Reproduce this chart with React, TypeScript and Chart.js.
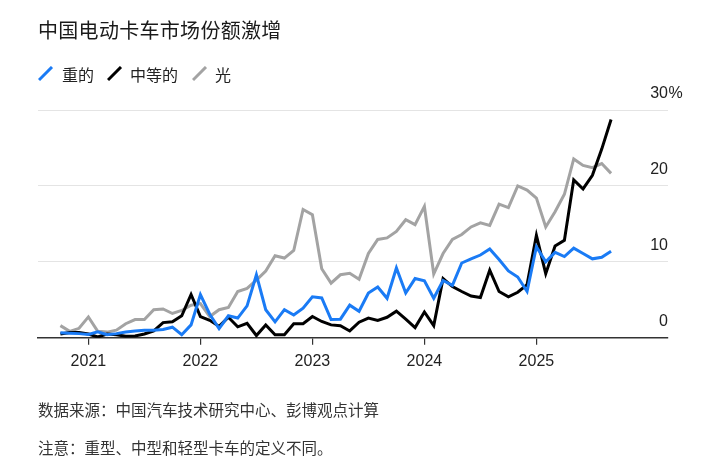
import React, { useEffect, useRef } from "react";
import { Chart, registerables } from "chart.js";

Chart.register(...registerables);

// Monthly data, Oct 2020 .. Sep 2025 (index 0 = Oct 2020)
const heavy = [
  0.65, 0.6, 0.55, 0.45, 0.8, 0.4, 0.55, 0.75, 0.9, 1.0, 1.0, 1.1,
  1.4, 0.4, 1.7, 5.7, 3.1, 1.2, 2.9, 2.6, 4.2, 8.3, 3.7, 2.1,
  3.7, 3.0, 3.9, 5.4, 5.25, 2.4, 2.45, 4.3, 3.5, 5.9, 6.7, 5.2,
  9.2, 5.9, 7.8, 7.5, 5.2, 7.55, 6.9, 9.85, 10.4, 10.9, 11.7, 10.3,
  8.8, 8.0, 6.1, 12.0, 10.0, 11.25, 10.7, 11.8, 11.1, 10.4, 10.6, 11.4,
];
const medium = [
  0.5, 0.7, 0.7, 0.5, 0.1, 0.5, 0.4, 0.2, 0.25, 0.5, 0.9, 2.0,
  2.1, 2.9, 5.7, 2.8, 2.3, 1.5, 2.7, 1.45, 1.9, 0.3, 1.7, 0.4,
  0.4, 1.85, 1.85, 2.8, 2.15, 1.7, 1.6, 0.9, 2.05, 2.6, 2.3, 2.7,
  3.5, 2.45, 1.35, 3.4, 1.6, 7.8, 6.75, 6.1, 5.5, 5.3, 8.9, 6.1,
  5.4, 6.0, 7.0, 13.5, 8.45, 12.1, 12.85, 20.8, 19.6, 21.4, 24.85, 28.75,
];
const light = [
  1.6, 0.85, 1.25, 2.75, 0.85, 0.75, 1.0, 1.85, 2.4, 2.4, 3.7, 3.8,
  3.2, 3.6, 4.3, 4.5, 2.8, 3.7, 4.0, 6.1, 6.5, 7.6, 8.8, 10.8,
  10.5, 11.5, 16.9, 16.2, 9.1, 7.2, 8.3, 8.5, 7.7, 11.1, 12.95, 13.15,
  14.0, 15.55, 14.9, 17.3, 8.4, 11.1, 12.95, 13.6, 14.6, 15.15, 14.8, 17.6,
  17.15, 20.0, 19.45, 18.4, 14.6, 16.6, 18.9, 23.55, 22.7, 22.4, 22.95, 21.65,
];

const seriesNames = ["重的", "中等的", "光"];
const seriesColors = ["#1a7bf5", "#000000", "#a3a3a3"];

// Year ticks: index of January of each year
const yearTickIndex = [3, 15, 27, 39, 51];
const yearLabels = ["2021", "2022", "2023", "2024", "2025"];
const yTicks = [0, 10, 20, 30];

const title = "中国电动卡车市场份额激增";
const sourceNote = "数据来源：中国汽车技术研究中心、彭博观点计算";
const footNote = "注意：重型、中型和轻型卡车的定义不同。";

const CJK = '"Noto Sans CJK SC", "Noto Sans", sans-serif';
const NUM = '"Liberation Sans", Arial, sans-serif';

export default function App() {
  const ref = useRef<HTMLCanvasElement | null>(null);

  useEffect(() => {
    if (!ref.current) return;
    const toPts = (arr: number[]) => arr.map((v, i) => ({ x: i, y: v }));
    const percentPlugin = {
      id: "percentSign",
      afterDraw(chart: any) {
        const ctx = chart.ctx;
        const ys = chart.scales.y;
        const y = ys.getPixelForValue(30) - 16;
        ctx.save();
        ctx.font = `16px ${NUM}`;
        ctx.fillStyle = "#222";
        ctx.textAlign = "left";
        ctx.textBaseline = "middle";
        ctx.fillText("%", chart.chartArea.right + 0.5, y);
        ctx.restore();
      },
    };
    const chart = new Chart(ref.current, {
      type: "line",
      data: {
        datasets: [heavy, medium, light].map((arr, k) => ({
          label: seriesNames[k],
          data: toPts(arr),
          borderColor: seriesColors[k],
          backgroundColor: seriesColors[k],
          borderWidth: 3,
          pointRadius: 0,
          tension: 0,
          fill: false,
        })),
      },
      options: {
        responsive: false,
        animation: false,
        devicePixelRatio: 1,
        layout: { padding: { left: 38, right: 51, top: 110, bottom: 90 } },
        plugins: {
          legend: { display: false },
          tooltip: { enabled: false },
          title: { display: false },
        },
        scales: {
          x: {
            type: "linear",
            min: -2.4,
            max: 65.1,
            afterBuildTicks: (scale: any) => {
              scale.ticks = yearTickIndex.map((v) => ({ value: v }));
            },
            ticks: {
              autoSkip: false,
              maxRotation: 0,
              padding: 7,
              color: "#222",
              font: { family: NUM, size: 16 },
              callback: (v: any) => {
                const idx = yearTickIndex.indexOf(Number(v));
                return idx >= 0 ? yearLabels[idx] : "";
              },
            },
            grid: {
              drawOnChartArea: false,
              drawTicks: true,
              tickLength: 7,
              color: "#333",
              lineWidth: 1.2,
            },
            border: { display: true, color: "#333", width: 1.5 },
          },
          y: {
            position: "right",
            min: 0,
            max: 30,
            afterBuildTicks: (scale: any) => {
              scale.ticks = yTicks.map((v) => ({ value: v }));
            },
            ticks: {
              mirror: true,
              padding: 0,
              labelOffset: -16,
              color: "#222",
              font: { family: NUM, size: 16 },
              callback: (v: any) => String(v),
            },
            grid: {
              drawTicks: false,
              color: (c: any) => (c.tick && c.tick.value === 0 ? "rgba(0,0,0,0)" : "#e4e4e4"),
              lineWidth: 1,
            },
            border: { display: false },
          },
        },
      },
      plugins: [percentPlugin],
    } as any);
    return () => chart.destroy();
  }, []);

  const legendItem = (k: number, left: number, textLeft: number) => (
    <React.Fragment key={k}>
      <svg
        width={16}
        height={16}
        style={{ position: "absolute", left, top: 66 }}
      >
        <line x1={1} y1={14} x2={14} y2={1} stroke={seriesColors[k]} strokeWidth={3} />
      </svg>
      <div
        style={{
          position: "absolute",
          left: textLeft,
          top: 65,
          fontSize: 16,
          lineHeight: "18px",
          fontFamily: CJK,
          color: "#222",
          whiteSpace: "nowrap",
        }}
      >
        {seriesNames[k]}
      </div>
    </React.Fragment>
  );

  return (
    <div
      style={{
        position: "fixed",
        left: 0,
        top: 0,
        width: 719,
        height: 468,
        background: "#fff",
        overflow: "hidden",
      }}
    >
      <canvas
        ref={ref}
        width={719}
        height={468}
        style={{ position: "absolute", left: 0, top: 0, width: 719, height: 468 }}
      />
      <div
        style={{
          position: "absolute",
          left: 38,
          top: 19,
          fontSize: 20,
          lineHeight: "22px",
          fontFamily: CJK,
          color: "#1a1a1a",
          whiteSpace: "nowrap",
          letterSpacing: 0.3,
        }}
      >
        {title}
      </div>
      {legendItem(0, 38, 62)}
      {legendItem(1, 107, 130)}
      {legendItem(2, 192, 215)}
      <div
        style={{
          position: "absolute",
          left: 38,
          top: 399,
          fontSize: 15.5,
          lineHeight: "20px",
          fontFamily: CJK,
          color: "#333",
          whiteSpace: "nowrap",
        }}
      >
        {sourceNote}
      </div>
      <div
        style={{
          position: "absolute",
          left: 38,
          top: 437,
          fontSize: 15.5,
          lineHeight: "20px",
          fontFamily: CJK,
          color: "#333",
          whiteSpace: "nowrap",
        }}
      >
        {footNote}
      </div>
    </div>
  );
}
